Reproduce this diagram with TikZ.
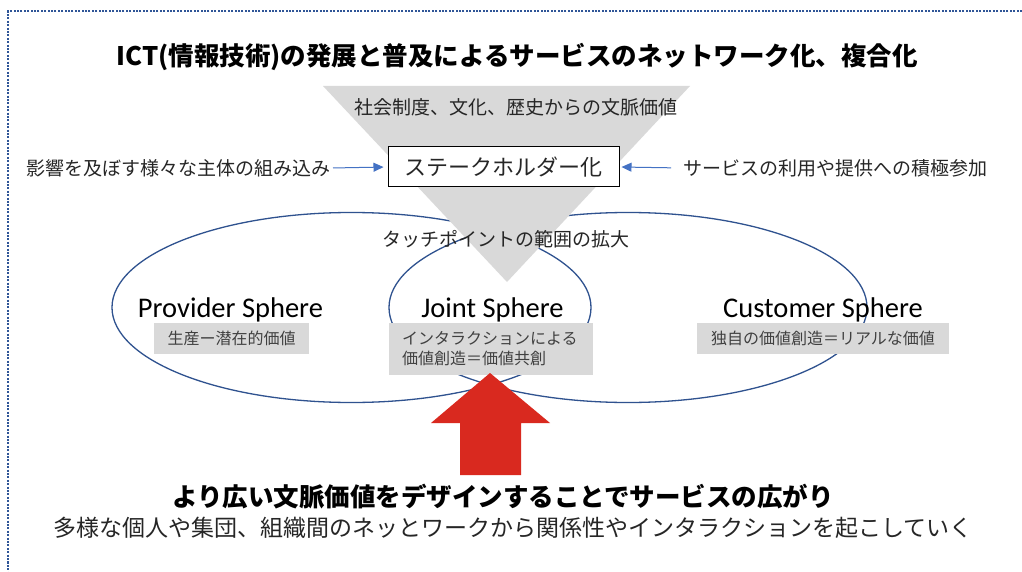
\documentclass[tikz,border=0pt]{standalone}
\usepackage{fontspec}
\setmainfont{Noto Sans CJK JP}
\newfontfamily\jpfont{Noto Sans CJK JP}
\newfontfamily\spherefont{Carlito}
\usetikzlibrary{arrows.meta}
\definecolor{frameblue}{RGB}{47,85,151}
\definecolor{ringblue}{RGB}{47,82,143}
\definecolor{arrowblue}{RGB}{68,114,196}
\definecolor{panelgrey}{RGB}{217,217,217}
\definecolor{labelgrey}{RGB}{64,64,64}
\definecolor{notegrey}{RGB}{38,38,38}
\definecolor{pushred}{RGB}{217,41,31}
\tikzset{
  jpsize/.style={font=\jpfont\fontsize{#1}{#1}\selectfont},
  jpbold/.style={inner sep=0pt, text=black, font=\jpfont\bfseries\fontsize{#1}{#1}\selectfont},
  jptext/.style={inner sep=0pt, text=notegrey, jpsize=#1},
  sphere/.style={inner sep=0pt, anchor=base, font=\spherefont\fontsize{28.5}{30}\selectfont},
  valuebox/.style={fill=panelgrey, text=labelgrey, inner sep=0pt, jpsize=16},
  ring/.style={draw=ringblue, line width=1.3pt},
  feed/.style={draw=arrowblue, line width=1pt, -{Triangle[length=10pt,width=9pt]}}
}
\begin{document}
\begin{tikzpicture}[x=1pt,y=-1pt]
\useasboundingbox (0,0) rectangle (1022,572);
\fill[white] (0,0) rectangle (1022,572);

% frame edges
\draw[frameblue, line width=2pt, dash pattern=on 2pt off 1.4pt] (1022,11.5) -- (8,11.5) -- (8,572);

% provider and customer spheres; their overlap is the joint sphere
\draw[ring] (351.5,307.5) ellipse [x radius=239.5, y radius=95];
\draw[ring] (628,307.5) ellipse [x radius=239, y radius=95];

% funnel of contextual value
\fill[panelgrey] (323,86) -- (690,86) -- (507,282) -- cycle;

% heading
\node[jpbold=25.5] (title) at (517,57) {ICT(情報技術)の発展と普及によるサービスのネットワーク化、複合化};

\node[jptext=19] (context) at (516,107) {社会制度、文化、歴史からの文脈価値};

% stakeholder box and the two inputs
\node[draw=black, line width=1pt, fill=white, minimum width=231, minimum height=40, inner sep=0pt, jpsize=22, text=notegrey] (stake) at (503.5,167) {ステークホルダー化};
\node[jptext=19, anchor=east] (involve) at (331,168) {影響を及ぼす様々な主体の組み込み};
\node[jptext=19, anchor=west] (engage) at (683,168) {サービスの利用や提供への積極参加};
\draw[feed, shorten <=2pt, shorten >=4pt] (involve.east) -- (stake.west);
\draw[feed, shorten <=12pt, shorten >=2pt] (engage.west) -- (stake.east);

\node[jptext=19] (touch) at (506,239) {タッチポイントの範囲の拡大};

% sphere labels
\node[sphere] (provider) at (230.5,317) {Provider Sphere};
\node[sphere] (joint) at (492.5,317) {Joint Sphere};
\node[sphere] (customer) at (823,317) {Customer Sphere};

% value boxes
\node[valuebox, minimum width=155, minimum height=31] (pval) at (231.5,338.5) {生産ー潜在的価値};
\node[valuebox, minimum width=204, minimum height=52, text width=178, align=left, font=\jpfont\fontsize{16}{20}\selectfont] (jval) at (491,349) {インタラクションによる\\価値創造＝価値共創};
\node[valuebox, minimum width=252, minimum height=31] (cval) at (823,338.5) {独自の価値創造＝リアルな価値};

% upward push arrow
\fill[pushred] (490,373) -- (550,423) -- (521,423) -- (521,475) -- (460,475) -- (460,423) -- (431,423) -- cycle;

% closing statements
\node[jpbold=25.5] (wider) at (503,497) {より広い文脈価値をデザインすることでサービスの広がり};
\node[jptext=23] (network) at (513,528) {多様な個人や集団、組織間のネッとワークから関係性やインタラクションを起こしていく};
\end{tikzpicture}
\end{document}
